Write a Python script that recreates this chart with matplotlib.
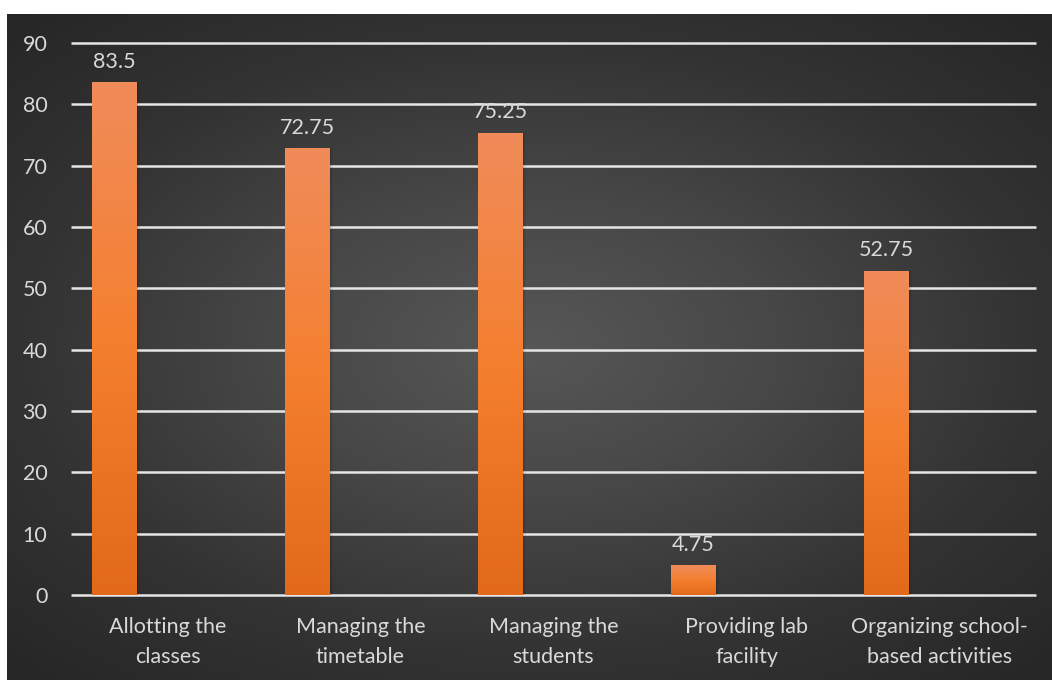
import matplotlib
matplotlib.use("Agg")
import matplotlib.pyplot as plt
import numpy as np
from matplotlib.colors import LinearSegmentedColormap

plt.rcParams["font.family"] = ["Lato", "DejaVu Sans"]

# Data
categories = [
    "Allotting the\nclasses",
    "Managing the\ntimetable",
    "Managing the\nstudents",
    "Providing lab\nfacility",
    "Organizing school-\nbased activities",
]
values = [83.5, 72.75, 75.25, 4.75, 52.75]
yticks = [0, 10, 20, 30, 40, 50, 60, 70, 80, 90]

text_color = "#d9d9d9"
bar_offset = -0.277
bar_width = 0.228
fsize = 15.5

W, H = 1052, 680
fig = plt.figure(figsize=(W / 100, H / 100), dpi=100, facecolor="white")

# Dark radial background panel
bg = fig.add_axes([7 / W, 0, (W - 7) / W, (H - 14) / H])
bg.set_axis_off()
yy, xx = np.mgrid[-1:1:400j, -1:1:600j]
r = np.sqrt(xx ** 2 + (yy * 1.05) ** 2)
r = np.clip(r / 1.45, 0, 1)
bg_cmap = LinearSegmentedColormap.from_list("bg", ["#575757", "#474747", "#333333", "#262626"])
bg.imshow(r, cmap=bg_cmap, aspect="auto", extent=[0, 1, 0, 1], vmin=0, vmax=1)
bg.set_xlim(0, 1)
bg.set_ylim(0, 1)

# Main chart
ax = fig.add_axes([71 / W, 85 / H, (1036 - 71) / W, (595 - 43) / H])
ax.patch.set_alpha(0)
for s in ax.spines.values():
    s.set_visible(False)

# Gridlines
ax.hlines(yticks, -0.5, len(categories) - 0.5, colors="#e6e6e6", linewidth=1.8,
          zorder=1, clip_on=False)

bar_cmap = LinearSegmentedColormap.from_list("bar", ["#e2691a", "#f47f2f", "#f08c5a"])
grad = np.linspace(0, 1, 256).reshape(-1, 1)

xs = np.arange(len(categories))
bars = ax.bar(xs + bar_offset, values, width=bar_width, color="none", zorder=3)
for rect, v in zip(bars, values):
    x0 = rect.get_x()
    x1 = x0 + rect.get_width()
    # soft shadow to the right of the bar
    for k, a in enumerate([0.18, 0.12, 0.06]):
        ax.add_patch(plt.Rectangle((x1, 0), 0.006 * (k + 1), v, color="black",
                                   alpha=a, lw=0, zorder=2))
    ax.imshow(grad, cmap=bar_cmap, aspect="auto", origin="lower",
              extent=[x0, x1, 0, v], zorder=3)
    ax.annotate(f"{v:g}", (x0 + rect.get_width() / 2, v),
                xytext=(0, 8), textcoords="offset points", ha="center",
                va="bottom", color=text_color, fontsize=fsize)

ax.set_xlim(-0.5, len(categories) - 0.5)
ax.set_ylim(0, 90)

ax.set_yticks(yticks)
ax.set_yticklabels([str(t) for t in yticks])
ax.set_xticks(xs)
ax.set_xticklabels(categories, linespacing=1.6)
ax.tick_params(axis="y", length=0, pad=17, labelsize=fsize, labelcolor=text_color)
ax.tick_params(axis="x", length=0, pad=16, labelsize=fsize, labelcolor=text_color)

fig.savefig("out.png", dpi=100, facecolor="white")
